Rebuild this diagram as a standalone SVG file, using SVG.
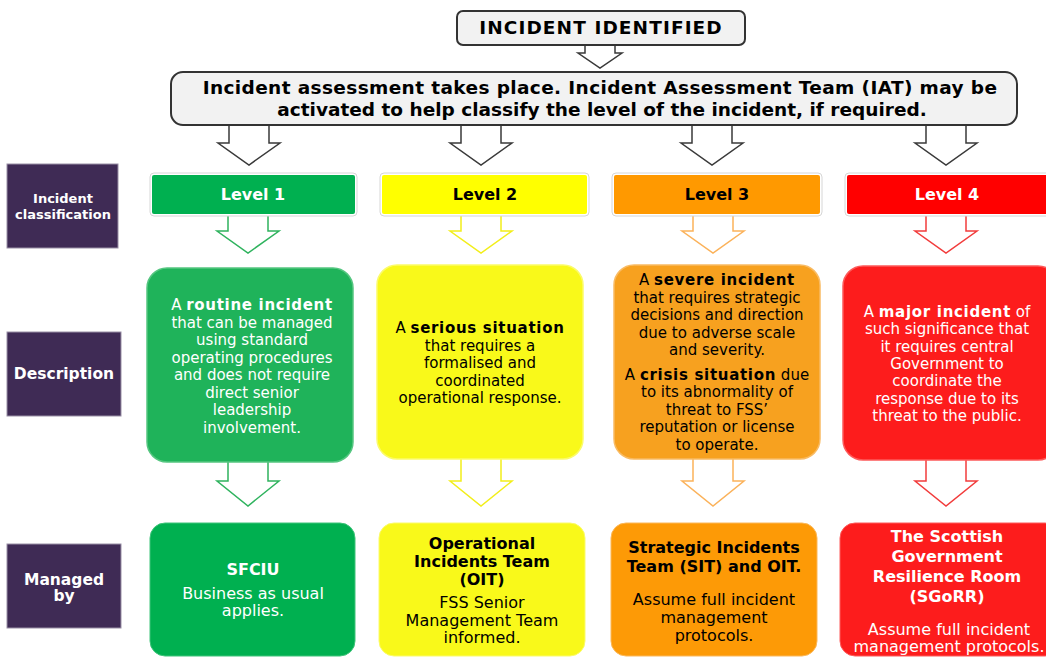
<svg xmlns="http://www.w3.org/2000/svg" width="1046" height="657" viewBox="0 0 1046 657">
<style>
text{font-family:"DejaVu Sans",Verdana,sans-serif;text-anchor:middle}
.b{font-weight:bold}
.title{font-size:18.5px;font-weight:bold;fill:#000}
.lab{fill:#3f2b55;stroke:#9a90a6;stroke-width:1}
.labt{font-weight:bold;fill:#fff}
.lvl{font-size:16px;font-weight:bold}
.d{font-size:15px}
.d .b{letter-spacing:0.7px}
.m{font-size:16px}
.w{fill:#fff}
.k{fill:#000}
.ga{fill:#fff;stroke:#3a3a3a;stroke-width:1.5}
.outer{fill:#fff;stroke:#d6d6d6;stroke-width:1}
</style>
<rect width="1046" height="657" fill="#fff"/>
<g id="connectors" stroke-linejoin="miter">
  <polygon class="ga" points="585,43 585,53 578,53 600,68 622,53 615,53 615,43"/>
  <polygon class="ga" points="229,122 229,143 218,143 249,165 280,143 269,143 269,122"/>
  <polygon class="ga" points="461,122 461,143 450,143 481,165 512,143 501,143 501,122"/>
  <polygon class="ga" points="692,122 692,143 681,143 712,165 743,143 732,143 732,122"/>
  <polygon class="ga" points="926,122 926,143 915,143 946,165 977,143 966,143 966,122"/>
  <polygon fill="#fff" stroke="#2fb35e" stroke-width="1.5" points="228,212 228,231 217,231 248,253 279,231 268,231 268,212"/>
  <polygon fill="#fff" stroke="#f2ee1a" stroke-width="1.5" points="461,212 461,231 450,231 481,253 512,231 501,231 501,212"/>
  <polygon fill="#fff" stroke="#fbb25a" stroke-width="1.5" points="693,212 693,231 682,231 713,253 744,231 733,231 733,212"/>
  <polygon fill="#fff" stroke="#f23c3c" stroke-width="1.5" points="926,212 926,231 915,231 946,253 977,231 966,231 966,212"/>
  <polygon fill="#fff" stroke="#2fb35e" stroke-width="1.5" points="228,456 228,481 217,481 248,506 279,481 268,481 268,456"/>
  <polygon fill="#fff" stroke="#f2ee1a" stroke-width="1.5" points="461,456 461,481 450,481 481,506 512,481 501,481 501,456"/>
  <polygon fill="#fff" stroke="#fbb25a" stroke-width="1.5" points="693,456 693,481 682,481 713,506 744,481 733,481 733,456"/>
  <polygon fill="#fff" stroke="#f23c3c" stroke-width="1.5" points="926,456 926,481 915,481 946,506 977,481 966,481 966,456"/>
</g>
<g id="incident-identified">
  <rect x="457" y="11" width="288" height="34" rx="6" fill="#f2f2f2" stroke="#333" stroke-width="2"/>
  <text class="title" x="601" y="34" letter-spacing="1.1">INCIDENT IDENTIFIED</text>
</g>
<g id="assessment">
  <rect x="171" y="72" width="846" height="53" rx="12" fill="#f2f2f2" stroke="#333" stroke-width="2"/>
  <text class="title" x="600" y="94" letter-spacing="0.38">Incident assessment takes place. Incident Assessment Team (IAT) may be</text>
  <text class="title" x="602" y="116">activated to help classify the level of the incident, if required.</text>
</g>
<g id="label-classification">
  <rect class="lab" x="7" y="164" width="111" height="84"/>
  <text class="labt" x="63" y="203" font-size="13">Incident</text>
  <text class="labt" x="63" y="219" font-size="13">classification</text>
</g>
<g id="label-description">
  <rect class="lab" x="7" y="332" width="114" height="84"/>
  <text class="labt" x="64" y="379" font-size="15.5">Description</text>
</g>
<g id="label-managed">
  <rect class="lab" x="7" y="544" width="114" height="84"/>
  <text class="labt" x="64" y="585" font-size="15.5">Managed</text>
  <text class="labt" x="64" y="601" font-size="15.5">by</text>
</g>
<g id="level1">
  <rect class="outer" x="150" y="173" width="207" height="43" rx="4"/>
  <rect x="152" y="175" width="203" height="39" rx="2" fill="#00b050"/>
  <text class="lvl w" x="253" y="200">Level 1</text>
</g>
<g id="level2">
  <rect class="outer" x="380" y="173" width="209" height="43" rx="4"/>
  <rect x="382" y="175" width="205" height="39" rx="2" fill="#ffff00"/>
  <text class="lvl k" x="485" y="200">Level 2</text>
</g>
<g id="level3">
  <rect class="outer" x="612" y="173" width="210" height="43" rx="4"/>
  <rect x="614" y="175" width="206" height="39" rx="2" fill="#ff9900"/>
  <text class="lvl k" x="717" y="200">Level 3</text>
</g>
<g id="level4">
  <rect class="outer" x="845" y="173" width="214" height="43" rx="4"/>
  <rect x="847" y="175" width="210" height="39" rx="2" fill="#ff0000"/>
  <text class="lvl w" x="947" y="200">Level 4</text>
</g>
<g id="desc1">
  <rect x="147" y="268" width="206" height="194" rx="20" fill="#1fb35a" stroke="#55c680" stroke-width="1.5"/>
  <text class="d w" x="252" y="310">A <tspan class="b">routine incident</tspan></text>
  <text class="d w" x="252" y="327.5">that can be managed</text>
  <text class="d w" x="252" y="345">using standard</text>
  <text class="d w" x="252" y="362.5">operating procedures</text>
  <text class="d w" x="252" y="380">and does not require</text>
  <text class="d w" x="252" y="397.5">direct senior</text>
  <text class="d w" x="252" y="415">leadership</text>
  <text class="d w" x="252" y="432.5">involvement.</text>
</g>
<g id="desc2">
  <rect x="377" y="265" width="206" height="194" rx="20" fill="#f9f91a" stroke="#fbfb6a" stroke-width="1.5"/>
  <text class="d k" x="480" y="333">A <tspan class="b">serious situation</tspan></text>
  <text class="d k" x="480" y="350.5">that requires a</text>
  <text class="d k" x="480" y="368">formalised and</text>
  <text class="d k" x="480" y="385.5">coordinated</text>
  <text class="d k" x="480" y="403">operational response.</text>
</g>
<g id="desc3">
  <rect x="614" y="265" width="206" height="194" rx="20" fill="#f7a11f" stroke="#f9bb63" stroke-width="1.5"/>
  <text class="d k" x="717" y="285">A <tspan class="b">severe incident</tspan></text>
  <text class="d k" x="717" y="302.5">that requires strategic</text>
  <text class="d k" x="717" y="320">decisions and direction</text>
  <text class="d k" x="717" y="337.5">due to adverse scale</text>
  <text class="d k" x="717" y="355">and severity.</text>
  <text class="d k" x="717" y="379.5">A <tspan class="b">crisis situation</tspan> due</text>
  <text class="d k" x="717" y="397">to its abnormality of</text>
  <text class="d k" x="717" y="414.5">threat to FSS’</text>
  <text class="d k" x="717" y="432">reputation or license</text>
  <text class="d k" x="717" y="449.5">to operate.</text>
</g>
<g id="desc4">
  <rect x="843" y="266" width="215" height="194" rx="20" fill="#fd1c1c" stroke="#fd5a5a" stroke-width="1.5"/>
  <text class="d w" x="947" y="317">A <tspan class="b">major incident</tspan> of</text>
  <text class="d w" x="947" y="334.3">such significance that</text>
  <text class="d w" x="947" y="351.7">it requires central</text>
  <text class="d w" x="947" y="369">Government to</text>
  <text class="d w" x="947" y="386.3">coordinate the</text>
  <text class="d w" x="947" y="403.7">response due to its</text>
  <text class="d w" x="947" y="421">threat to the public.</text>
</g>
<g id="managed1">
  <rect x="150" y="523" width="205" height="133" rx="15" fill="#00b050" stroke="#3fc47a" stroke-width="1"/>
  <text class="m w b" x="253" y="575">SFCIU</text>
  <text class="m w" x="253" y="599">Business as usual</text>
  <text class="m w" x="253" y="616">applies.</text>
</g>
<g id="managed2">
  <rect x="379" y="523" width="206" height="133" rx="15" fill="#f9f91a" stroke="#fbfb6a" stroke-width="1"/>
  <text class="m k b" x="482" y="549">Operational</text>
  <text class="m k b" x="482" y="567">Incidents Team</text>
  <text class="m k b" x="482" y="585">(OIT)</text>
  <text class="m k" x="482" y="608">FSS Senior</text>
  <text class="m k" x="482" y="626">Management Team</text>
  <text class="m k" x="482" y="643">informed.</text>
</g>
<g id="managed3">
  <rect x="611" y="523" width="206" height="133" rx="15" fill="#fd9a06" stroke="#fbb85a" stroke-width="1"/>
  <text class="m k b" x="714" y="553">Strategic Incidents</text>
  <text class="m k b" x="714" y="572">Team (SIT) and OIT.</text>
  <text class="m k" x="714" y="605">Assume full incident</text>
  <text class="m k" x="714" y="623">management</text>
  <text class="m k" x="714" y="641">protocols.</text>
</g>
<g id="managed4">
  <rect x="840" y="523" width="220" height="133" rx="15" fill="#fd1c1c" stroke="#fd5a5a" stroke-width="1"/>
  <text class="m w b" x="947" y="542">The Scottish</text>
  <text class="m w b" x="947" y="562">Government</text>
  <text class="m w b" x="947" y="582">Resilience Room</text>
  <text class="m w b" x="947" y="602">(SGoRR)</text>
  <text class="m w" x="949" y="635">Assume full incident</text>
  <text class="m w" x="949" y="652">management protocols.</text>
</g>
</svg>
